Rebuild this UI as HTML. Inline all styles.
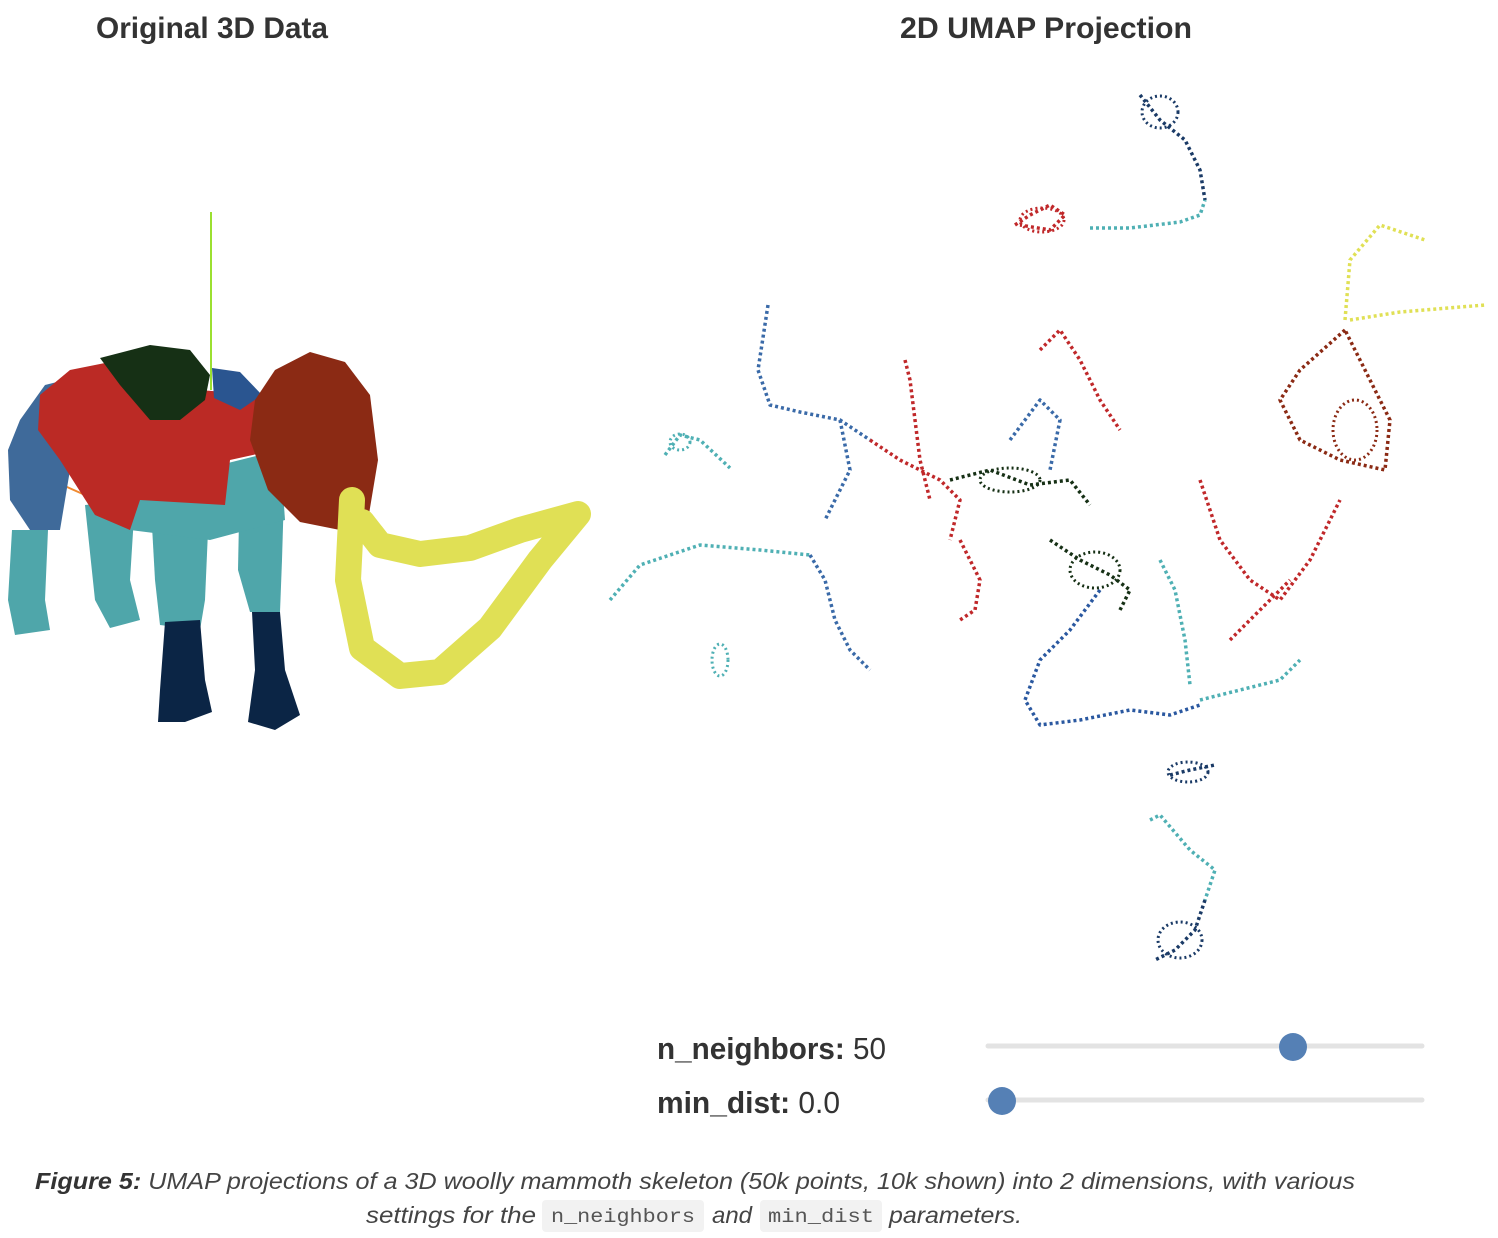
<!DOCTYPE html>
<html><head><meta charset="utf-8"><style>
html,body{margin:0;padding:0;background:#fff;}
svg{display:block;font-family:"Liberation Sans",sans-serif;}
</style></head><body>
<svg id="fig" width="1498" height="1238" viewBox="0 0 1498 1238" xmlns="http://www.w3.org/2000/svg">
<text x="96" y="38" font-size="30" font-weight="bold" fill="#333" textLength="232" lengthAdjust="spacingAndGlyphs">Original 3D Data</text>
<text x="900" y="38" font-size="30" font-weight="bold" fill="#333" textLength="292" lengthAdjust="spacingAndGlyphs">2D UMAP Projection</text>

<g id="mammoth">
<line x1="211" y1="212" x2="211" y2="390" stroke="#9be030" stroke-width="2"/>
<line x1="40" y1="475" x2="85" y2="495" stroke="#f08a30" stroke-width="2"/>
<path fill="#3f6a9a" d="M20,420 L45,385 L65,380 L70,470 L60,530 L30,530 L10,500 L8,450 Z"/>
<path fill="#4fa6aa" d="M12,530 L48,530 L45,600 L50,630 L15,635 L8,600 Z"/>
<path fill="#4fa6aa" d="M85,505 L135,500 L130,580 L140,620 L110,628 L95,600 Z"/>
<path fill="#4fa6aa" d="M150,490 L210,485 L205,600 L200,630 L160,625 L155,580 Z"/>
<path fill="#4fa6aa" d="M240,470 L285,460 L282,560 L280,612 L250,612 L238,570 Z"/>
<path fill="#4fa6aa" d="M120,490 L280,450 L285,520 L210,540 L130,530 Z"/>
<path fill="#bb2a25" d="M40,395 L70,370 L110,362 L200,390 L260,395 L275,450 L230,460 L225,505 L140,500 L130,530 L95,515 L60,460 L38,430 Z"/>
<path fill="#163015" d="M100,358 L150,345 L190,350 L210,375 L205,400 L180,420 L150,420 L120,385 Z"/>
<path fill="#2a5590" d="M212,368 L240,372 L262,395 L240,410 L214,398 Z"/>
<path fill="#8b2a14" d="M255,400 L275,370 L310,352 L345,362 L370,395 L378,460 L368,520 L340,530 L300,522 L268,490 L250,440 Z"/>
<path fill="#0b2545" d="M165,622 L200,620 L205,680 L212,712 L185,722 L158,722 L160,690 Z"/>
<path fill="#0b2545" d="M252,612 L280,612 L285,670 L300,715 L275,730 L248,722 L255,670 Z"/>
<path fill="none" stroke="#e0e055" stroke-width="26" stroke-linejoin="round" stroke-linecap="round" d="M352,500 L348,580 L362,648 L400,676 L440,672 L490,628 L540,560 L578,514 L520,530 L470,548 L420,554 L380,545 L362,522"/>
</g>

<g id="umap"></g>

<text x="657" y="1059" font-size="31" fill="#333" textLength="229" lengthAdjust="spacingAndGlyphs"><tspan font-weight="bold">n_neighbors:</tspan> 50</text>
<line x1="988" y1="1046" x2="1422" y2="1046" stroke="#e3e3e3" stroke-width="5" stroke-linecap="round"/>
<circle cx="1293" cy="1047" r="14" fill="#5580b5"/>
<text x="657" y="1113" font-size="31" fill="#333" textLength="183" lengthAdjust="spacingAndGlyphs"><tspan font-weight="bold">min_dist:</tspan> 0.0</text>
<line x1="988" y1="1100" x2="1422" y2="1100" stroke="#e3e3e3" stroke-width="5" stroke-linecap="round"/>
<circle cx="1002" cy="1101" r="14" fill="#5580b5"/>

<text x="35" y="1189" font-size="23" font-style="italic" fill="#444" textLength="1320" lengthAdjust="spacingAndGlyphs"><tspan font-weight="bold" fill="#333">Figure 5:</tspan> UMAP projections of a 3D woolly mammoth skeleton (50k points, 10k shown) into 2 dimensions, with various</text>
<rect x="542" y="1200" width="162" height="32" rx="4" fill="#f2f2f2"/>
<rect x="760" y="1200" width="122" height="32" rx="4" fill="#f2f2f2"/>
<text x="366" y="1223" font-size="23" font-style="italic" fill="#444" textLength="170" lengthAdjust="spacingAndGlyphs">settings for the</text>
<text x="551" y="1222" font-size="19" font-family="Liberation Mono,monospace" fill="#555" textLength="144" lengthAdjust="spacingAndGlyphs">n_neighbors</text>
<text x="712" y="1223" font-size="23" font-style="italic" fill="#444" textLength="40" lengthAdjust="spacingAndGlyphs">and</text>
<text x="768" y="1222" font-size="19" font-family="Liberation Mono,monospace" fill="#555" textLength="106" lengthAdjust="spacingAndGlyphs">min_dist</text>
<text x="889" y="1223" font-size="23" font-style="italic" fill="#444" textLength="133" lengthAdjust="spacingAndGlyphs">parameters.</text>
</svg>
<script>
// UMAP curve data: embedding coordinates (pixel-space estimates)
const curveColors = ["#1a3a66","#4fb0b4","#c0282a","#c0282a","#e0e055","#e0e055","#8b2a14","#3a6aa8","#3a6aa8","#4fb0b4","#c0282a","#163015","#163015","#2a58a0","#4fb0b4","#3a6aa8","#c0282a","#c0282a","#4fb0b4","#4fb0b4","#1a3a66","#4fb0b4","#1a3a66","#c0282a","#3a6aa8","#c0282a"];
const curveXs = [
 [1140,1160,1185,1200,1205],
 [1090,1130,1180,1200,1205],
 [1015,1030,1050,1065,1050,1020],
 [905,910,915,920,930],
 [1345,1350,1380,1425],
 [1350,1400,1485],
 [1345,1300,1280,1300,1340,1385,1390,1370,1345],
 [768,758,770,800,840,870],
 [840,850,835,825],
 [665,680,700,730],
 [870,900,940,960,950],
 [950,990,1030,1070,1090],
 [1050,1080,1110,1130,1120],
 [1100,1070,1040,1025,1040,1080,1130,1170,1200],
 [610,640,700,760,810],
 [810,825,835,850,870],
 [1200,1220,1250,1280,1310,1340],
 [1230,1260,1290],
 [1160,1175,1185,1190],
 [1200,1240,1280,1300],
 [1170,1190,1215],
 [1150,1160,1190,1215,1205],
 [1205,1195,1175,1155],
 [1040,1060,1080,1100,1120],
 [1010,1040,1060,1050],
 [960,980,975,960]
];
const curveYs = [
 [95,120,140,170,200],
 [228,228,222,215,200],
 [225,215,205,215,230,225],
 [360,380,420,460,500],
 [320,260,225,240],
 [320,312,305],
 [330,370,400,440,460,470,420,380,330],
 [305,370,405,412,420,440],
 [420,470,500,520],
 [455,435,440,468],
 [440,460,480,500,540],
 [480,470,485,480,505],
 [540,560,575,590,610],
 [590,630,660,700,725,720,710,715,705],
 [600,565,545,550,555],
 [555,580,620,650,670],
 [480,540,580,600,560,500],
 [640,610,580],
 [560,590,640,685],
 [700,690,680,660],
 [775,770,765],
 [820,815,850,870,900],
 [900,930,950,960],
 [350,330,360,400,430],
 [440,400,420,470],
 [540,580,610,620]
];
// dense cluster blobs
const blobColors = ["#1a3a66","#c0282a","#1a3a66","#1a3a66","#4fb0b4","#4fb0b4","#8b2a14","#163015","#163015"];
const blobXs = [1160,1042,1188,1180,720,680,1355,1010,1095];
const blobYs = [112,220,772,940,660,442,430,480,570];
const blobRx = [18,22,20,22,8,10,22,30,25];
const blobRy = [16,12,10,18,16,8,30,12,18];

const ns = "http://www.w3.org/2000/svg";
const g = document.getElementById('umap');
for (let i = 0; i < curveColors.length; i++) {
  const pts = curveXs[i].map((x, j) => x + ',' + curveYs[i][j]).join(' ');
  const pl = document.createElementNS(ns, 'polyline');
  pl.setAttribute('points', pts);
  pl.setAttribute('fill', 'none');
  pl.setAttribute('stroke', curveColors[i]);
  pl.setAttribute('stroke-width', '3.5');
  pl.setAttribute('stroke-dasharray', '3 3');
  pl.setAttribute('stroke-linejoin', 'round');
  
  
  g.appendChild(pl);
}
for (let i = 0; i < blobColors.length; i++) {
  const e = document.createElementNS(ns, 'ellipse');
  e.setAttribute('cx', blobXs[i]);
  e.setAttribute('cy', blobYs[i]);
  e.setAttribute('rx', blobRx[i]);
  e.setAttribute('ry', blobRy[i]);
  e.setAttribute('fill', 'none');
  e.setAttribute('stroke', blobColors[i]);
  e.setAttribute('stroke-width', '3');
  e.setAttribute('stroke-dasharray', '2 3');
  
  
  g.appendChild(e);
}
</script>
</body></html>
